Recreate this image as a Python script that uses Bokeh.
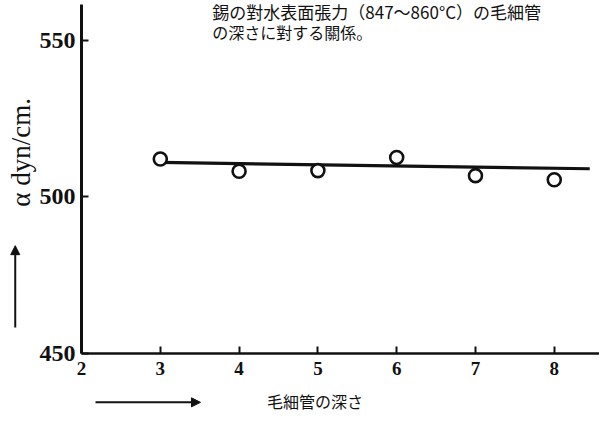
from bokeh.plotting import figure
from bokeh.models import Range1d, FixedTicker, Label, Arrow, NormalHead, LinearAxis
from bokeh.embed import file_html
from bokeh.resources import INLINE

# ---- data ----
depth = [3, 4, 5, 6, 7, 8]
tension = [512.1, 508.2, 508.4, 512.6, 506.8, 505.5]
fit_x = [3.0, 8.45]
fit_y = [511.0, 509.0]
x_ticks = [2, 3, 4, 5, 6, 7, 8]
y_ticks = [450, 500, 550]
title_lines = ["錫の對水表面張力（847〜860°C）の毛細管", "の深さに對する關係。"]
y_label = "α dyn/cm."
x_label = "毛細管の深さ"

INK = "#111111"
SERIF = "Liberation Serif"
CJK = "Noto Sans CJK JP"

# frame covers the whole canvas; axes are pinned with fixed_location
p = figure(width=599, height=413, x_range=Range1d(0.972, 8.574), y_range=Range1d(431.05, 562.58),
           output_backend="svg", toolbar_location=None,
           x_axis_location=None, y_axis_location=None,
           min_border_left=0, min_border_right=0, min_border_top=0, min_border_bottom=0)
p.outline_line_color = None
p.grid.visible = False
p.background_fill_color = "white"
p.border_fill_color = "white"

xax = LinearAxis(fixed_location=450, bounds=(2, 8.574), ticker=FixedTicker(ticks=x_ticks))
yax = LinearAxis(fixed_location=2, bounds=(450, 561.3), ticker=FixedTicker(ticks=y_ticks))
for ax in (xax, yax):
    ax.axis_line_color = INK
    ax.major_tick_line_color = INK
    ax.major_tick_line_width = 2
    ax.major_tick_in = 7
    ax.major_tick_out = 0
    ax.minor_tick_line_color = None
    ax.major_label_text_color = INK
    ax.major_label_text_font = SERIF
    ax.major_label_text_font_style = "bold"
xax.axis_line_width = 2.5
yax.axis_line_width = 3
xax.major_label_text_font_size = "19px"
yax.major_label_text_font_size = "24px"
xax.major_label_standoff = 8
yax.major_label_standoff = 6
p.add_layout(xax, "below")
p.add_layout(yax, "left")

p.line(fit_x, fit_y, line_color=INK, line_width=3.2)
p.scatter(depth, tension, size=13, marker="circle", fill_color="white",
          line_color=INK, line_width=2.6)

# caption
p.add_layout(Label(x=3.66, y=559.08, text=title_lines[0], text_font=CJK, text_font_size="17px",
                   text_color=INK, text_baseline="middle"))
p.add_layout(Label(x=3.66, y=552.39, text=title_lines[1], text_font=CJK, text_font_size="16px",
                   text_color=INK, text_baseline="middle"))

# axis titles
p.add_layout(Label(x=1.226, y=514.2, text=y_label, angle=90, angle_units="deg",
                   text_font=SERIF, text_font_size="27px", text_color=INK,
                   text_align="center", text_baseline="middle"))
p.add_layout(Label(x=4.963, y=434.9, text=x_label, text_font=CJK, text_font_size="16px",
                   text_color=INK, text_align="center", text_baseline="middle"))

# arrows
p.add_layout(Arrow(x_start=1.159, y_start=458.4, x_end=1.159, y_end=484.5,
                   line_color=INK, line_width=2,
                   end=NormalHead(size=9, fill_color=INK, line_color=INK)))
p.add_layout(Arrow(x_start=2.178, y_start=434.6, x_end=3.51, y_end=434.6,
                   line_color=INK, line_width=2,
                   end=NormalHead(size=9, fill_color=INK, line_color=INK)))

open("out.html", "w").write(file_html(p, INLINE))
